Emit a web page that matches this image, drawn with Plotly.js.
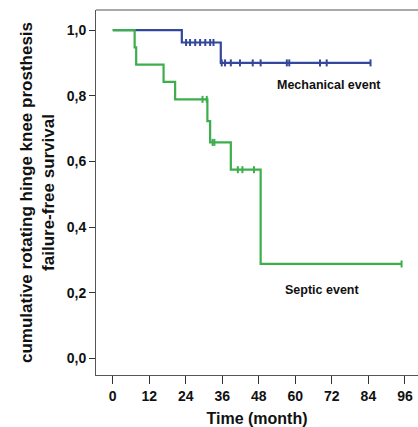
<!DOCTYPE html>
<html>
<head>
<meta charset="utf-8">
<script src="https://cdn.plot.ly/plotly-3.0.1.min.js"></script>
<style>html,body{margin:0;padding:0;background:#fff;}#chart{width:418px;height:427px;}</style>
</head>
<body>
<div id="chart"></div>
<script>
// Mechanical event (blue) Kaplan-Meier steps
var mechTimes = [0, 22.7, 35.5];
var mechSurv = [1.0, 0.962, 0.900];
var mechEnd = 84.7;
var mechCensor = [24.1, 25.4, 27.1, 28.7, 30.4, 32.0, 33.1, 35.8, 36.9, 38.8, 41.8, 46.0, 48.6, 57.2, 58.0, 68.1, 70.3, 84.7];

// Septic event (green) Kaplan-Meier steps
var sepTimes = [0, 7.2, 7.7, 16.7, 20.5, 31.1, 32.0, 38.8, 48.6];
var sepSurv = [1.0, 0.947, 0.895, 0.842, 0.789, 0.723, 0.658, 0.575, 0.288];
var sepEnd = 94.9;
var sepCensor = [29.5, 30.9, 32.8, 33.4, 41.1, 42.6, 46.4, 94.9];

var xTicks = [0, 12, 24, 36, 48, 60, 72, 84, 96];
var yTicks = [0.0, 0.2, 0.4, 0.6, 0.8, 1.0];
var yTickText = ['0,0', '0,2', '0,4', '0,6', '0,8', '1,0'];

var blue = '#33479b';
var green = '#3cae4c';

function stepAt(times, surv, t) {
  var v = surv[0];
  for (var i = 0; i < times.length; i++) { if (times[i] <= t) v = surv[i]; }
  return v;
}
function curve(times, surv, end) {
  return {x: times.concat([end]), y: surv.concat([surv[surv.length - 1]])};
}

var mc = curve(mechTimes, mechSurv, mechEnd);
var sc = curve(sepTimes, sepSurv, sepEnd);

var traces = [
  {x: mc.x, y: mc.y, mode: 'lines', line: {shape: 'hv', color: blue, width: 2.2}, showlegend: false, hoverinfo: 'skip'},
  {x: mechCensor, y: mechCensor.map(function(t){return stepAt(mechTimes, mechSurv, t);}), mode: 'markers',
   marker: {symbol: 'line-ns-open', size: 5, color: blue, line: {color: blue, width: 2}}, showlegend: false},
  {x: sc.x, y: sc.y, mode: 'lines', line: {shape: 'hv', color: green, width: 2.2}, showlegend: false, hoverinfo: 'skip'},
  {x: sepCensor, y: sepCensor.map(function(t){return stepAt(sepTimes, sepSurv, t);}), mode: 'markers',
   marker: {symbol: 'line-ns-open', size: 5, color: green, line: {color: green, width: 2}}, showlegend: false}
];

var font = 'Liberation Sans, Arial, sans-serif';
var layout = {
  width: 418, height: 427,
  margin: {l: 96, r: 0, t: 10, b: 52},
  paper_bgcolor: '#fff', plot_bgcolor: '#fff',
  font: {family: font, color: '#111'},
  xaxis: {
    range: [-5.5, 100.3], tickvals: xTicks, ticktext: xTicks.map(function(v){return '<b>' + v + '</b>';}),
    showgrid: false, zeroline: false, showline: true, linecolor: '#555', linewidth: 1,
    ticks: 'outside', ticklen: 8, tickcolor: '#333', tickwidth: 1,
    tickfont: {family: font, size: 14, color: '#111'},
    title: {text: '<b>Time (month)</b>', font: {family: font, size: 16, color: '#111'}, standoff: 12},
    automargin: false
  },
  yaxis: {
    range: [-0.05, 1.061], tickvals: yTicks, ticktext: yTickText.map(function(s){return '<b>' + s + '</b>';}),
    showgrid: false, zeroline: false, showline: true, linecolor: '#555', linewidth: 1,
    ticks: 'outside', ticklen: 6, tickcolor: '#333', tickwidth: 1,
    tickfont: {family: font, size: 14, color: '#111'},
    title: {text: '<b>cumulative rotating hinge knee prosthesis<br>failure-free survival</b>', font: {family: font, size: 17, color: '#111'}, standoff: 7},
    automargin: false
  },
  shapes: [
    {type: 'line', xref: 'paper', yref: 'paper', x0: 0, x1: 1, y0: 1, y1: 1, line: {color: '#555', width: 1}}
  ],
  annotations: [
    {text: '<b>Mechanical event</b>', x: 71.1, y: 0.833, xref: 'x', yref: 'y', showarrow: false, font: {family: font, size: 12.5, color: '#111'}},
    {text: '<b>Septic event</b>', x: 68.9, y: 0.208, xref: 'x', yref: 'y', showarrow: false, font: {family: font, size: 12.5, color: '#111'}}
  ]
};

Plotly.newPlot('chart', traces, layout, {displayModeBar: false, staticPlot: true});
</script>
</body>
</html>
